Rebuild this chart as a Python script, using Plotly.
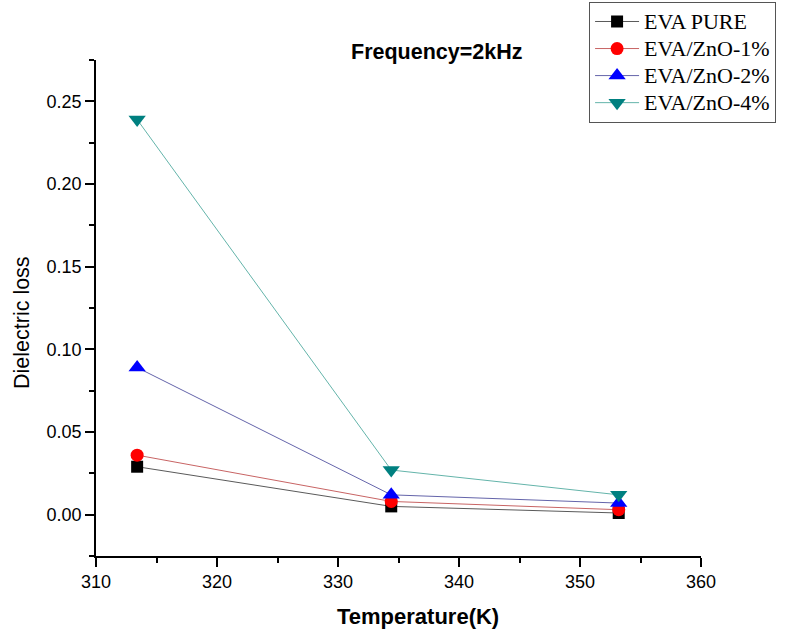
import plotly.graph_objects as go

# Dielectric loss vs temperature at 2 kHz
temperature = [313.4, 334.4, 353.2]
eva_pure = [0.029, 0.005, 0.001]
zno_1 = [0.036, 0.008, 0.003]
zno_2 = [0.089, 0.012, 0.007]
zno_4 = [0.239, 0.027, 0.012]

series = [
    ("EVA PURE", eva_pure, "#000000", "#5a5a5a", "square", 12),
    ("EVA/ZnO-1%", zno_1, "#ff0000", "#c86464", "circle", 13),
    ("EVA/ZnO-2%", zno_2, "#0000ff", "#6464aa", "triangle-up", 15),
    ("EVA/ZnO-4%", zno_4, "#008080", "#64b4aa", "triangle-down", 15),
]

fig = go.Figure()
for name, vals, mcol, lcol, sym, msize in series:
    fig.add_trace(go.Scatter(
        x=temperature, y=vals, mode="lines+markers",
        name='<span style="font-size:22px">%s</span>' % name,
        line=dict(color=lcol, width=1),
        marker=dict(color=mcol, symbol=sym, size=msize, line=dict(width=0)),
    ))

axis_font = dict(family="Liberation Sans, Arial", size=18, color="#000")
fig.update_layout(
    width=789, height=635,
    margin=dict(l=96, r=88, t=60, b=79, autoexpand=False),
    paper_bgcolor="white", plot_bgcolor="white",
    showlegend=True,
    legend=dict(
        x=0.815, y=1.117, xanchor="left", yanchor="top",
        bordercolor="#555", borderwidth=1, bgcolor="white",
        font=dict(family="Liberation Serif, Times New Roman", size=18.5, color="#000"),
        tracegroupgap=0, itemwidth=44,
    ),
    xaxis=dict(
        range=[310, 360], dtick=10, tick0=310,
        showline=True, linecolor="#000", linewidth=1.5, mirror=False,
        ticks="outside", ticklen=9, tickwidth=1.5, tickcolor="#000",
        minor=dict(dtick=5, ticks="outside", ticklen=5, tickwidth=1.5, tickcolor="#000"),
        showgrid=False, zeroline=False, tickfont=axis_font,
    ),
    yaxis=dict(
        range=[-0.025, 0.275], dtick=0.05, tick0=0, tickformat=".2f",
        showline=True, linecolor="#000", linewidth=1.5, mirror=False,
        ticks="outside", ticklen=9, tickwidth=1.5, tickcolor="#000",
        minor=dict(dtick=0.025, ticks="outside", ticklen=5, tickwidth=1.5, tickcolor="#000"),
        showgrid=False, zeroline=False, tickfont=axis_font,
    ),
    annotations=[
        dict(text="<b>Frequency=2kHz</b>", x=436, y=52, xref="paper", yref="paper",
             xanchor="center", yanchor="middle",
             showarrow=False, font=dict(family="Liberation Sans, Arial", size=21.5, color="#000")),
        dict(text="<b>Temperature(K)</b>", x=418, y=616, xref="paper", yref="paper",
             xanchor="center", yanchor="middle",
             showarrow=False, font=dict(family="Liberation Sans, Arial", size=22, color="#000")),
        dict(text="Dielectric loss", x=22, y=323, xref="paper", yref="paper", textangle=-90,
             xanchor="center", yanchor="middle",
             showarrow=False, font=dict(family="Liberation Sans, Arial", size=21.5, color="#000")),
    ],
    hovermode=False,
)

# convert pixel positions of the text labels to paper coordinates
plot_l, plot_r, plot_t, plot_b = 96, 701, 60, 556
for ann in fig.layout.annotations:
    ann.x = (ann.x - plot_l) / (plot_r - plot_l)
    ann.y = (plot_b - ann.y) / (plot_b - plot_t)

fig.write_html("out.html")
